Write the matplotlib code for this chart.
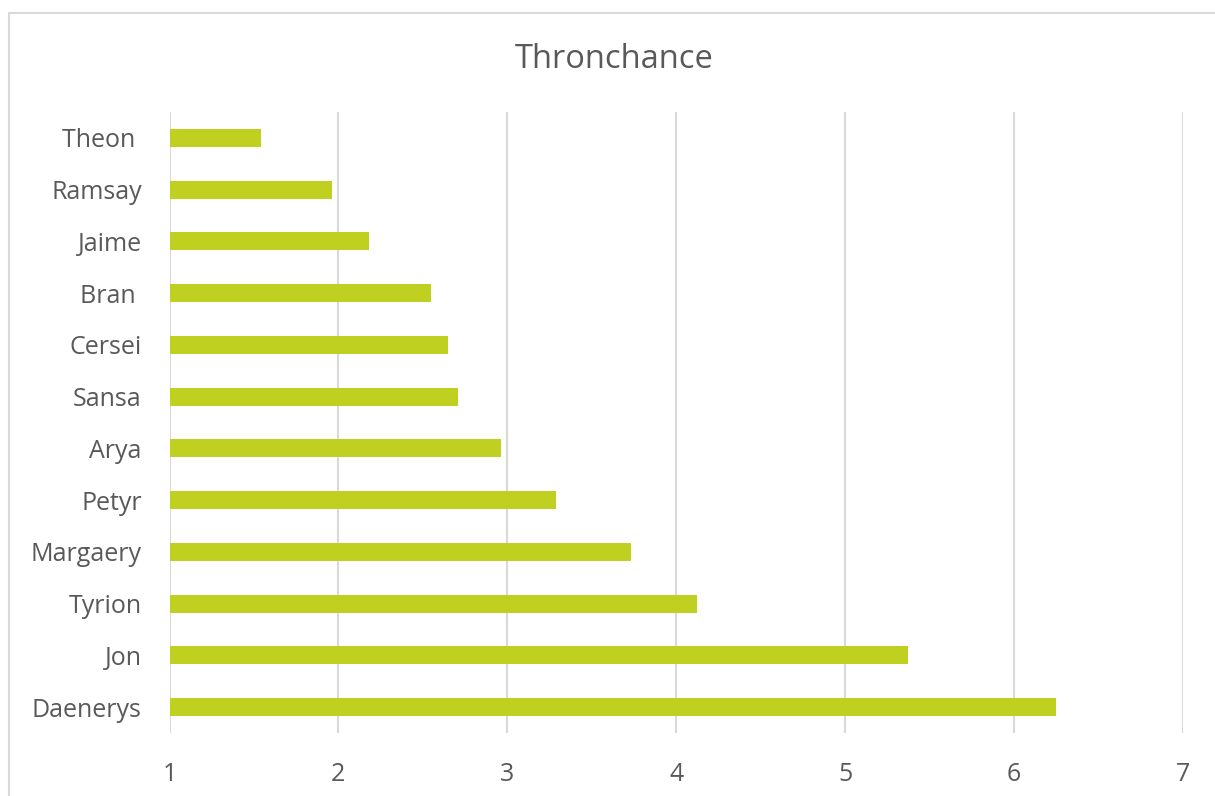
import matplotlib
matplotlib.use("Agg")
import matplotlib.pyplot as plt
from matplotlib.patches import Rectangle

names = ["Daenerys", "Jon", "Tyrion", "Margaery", "Petyr", "Arya",
         "Sansa", "Cersei", "Bran ", "Jaime", "Ramsay", "Theon "]
values = [6.25, 5.37, 4.12, 3.73, 3.29, 2.96, 2.71, 2.65, 2.55, 2.18, 1.96, 1.54]
xticks = [1, 2, 3, 4, 5, 6, 7]
title = "Thronchance"

plt.rcParams['font.family'] = ['Open Sans', 'DejaVu Sans']
fig = plt.figure(figsize=(12.15, 7.96), dpi=100)
fig.patches.append(Rectangle((9/1215, -0.1), 1.2, 1 - 13/796 + 0.1,
                             transform=fig.transFigure, fill=False,
                             edgecolor="#d9d9d9", linewidth=1.5))
ax = fig.add_axes([169.5/1215, 1 - 733/796, (1183 - 169.5)/1215, (733 - 112)/796])
ypos = list(range(len(names)))
ax.barh(ypos, [v - 1 for v in values], left=1, height=0.35, color="#bfd021", zorder=3)
ax.set_xlim(1, 7)
ax.set_ylim(-0.5, len(names) - 0.5)
ax.set_xticks(xticks)
ax.set_xticklabels([str(t) for t in xticks])
ax.set_yticks(ypos)
ax.set_yticklabels(names)
ax.tick_params(axis='both', length=0, labelsize=18, colors="#595959")
ax.tick_params(axis='x', pad=21)
ax.tick_params(axis='y', pad=20)
ax.xaxis.grid(True, color="#d9d9d9", linewidth=1.5, zorder=0)
ax.set_axisbelow(True)
for s in ax.spines.values():
    s.set_visible(False)
fig.text(614/1215, 1 - 59/796, title, ha="center", va="center",
         fontsize=23.5, color="#595959")
fig.savefig("out.png", dpi=100)
